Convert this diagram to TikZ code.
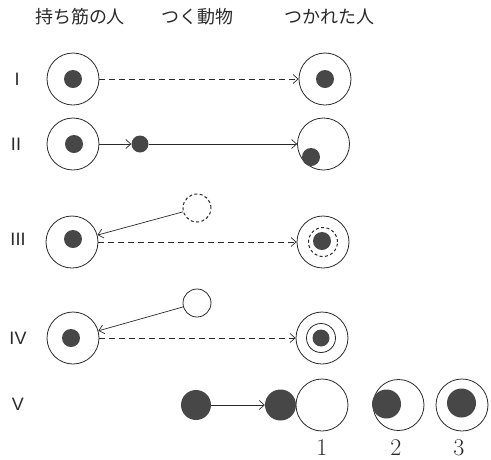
\documentclass[tikz,border=0pt]{standalone}
\usepackage{fontspec}
\newfontfamily\jpfont{Noto Sans CJK JP}
\newfontfamily\sansfont{Liberation Sans}
\usetikzlibrary{arrows.meta}
\definecolor{ink}{HTML}{2A2A2A}
\definecolor{dotgray}{HTML}{474747}
\begin{document}
\begin{tikzpicture}[x=1pt,y=-1pt,
  ring/.style={circle,draw=ink,line width=0.8pt,fill=white,inner sep=0pt,minimum size=52pt},
  dotm/.style={circle,fill=dotgray,inner sep=0pt,minimum size=18pt},
  bigdot/.style={circle,fill=dotgray,inner sep=0pt,minimum size=30pt},
  animal/.style={circle,draw=ink,line width=0.8pt,fill=white,inner sep=0pt,minimum size=28pt},
  dashcirc/.style={circle,draw=ink,line width=1pt,dash pattern=on 3pt off 2.4pt,inner sep=0pt,minimum size=28pt},
  solidarrow/.style={draw=ink,line width=0.7pt,-{Straight Barb[length=5pt,width=9pt]}},
  dasharrow/.style={solidarrow,dash pattern=on 6pt off 4pt},
  header/.style={font=\jpfont\fontsize{18pt}{20pt}\selectfont,anchor=base,text=ink,inner sep=0pt},
  roman/.style={font=\sansfont\fontsize{18pt}{20pt}\selectfont,anchor=base,text=ink,inner sep=0pt},
  digit/.style={font=\fontsize{24pt}{26pt}\selectfont,anchor=base,text=ink,inner sep=0pt}
]
\useasboundingbox (0,0) rectangle (491,459);
% headers
\node[header] (h1) at (80,23) {持ち筋の人};
\node[header] (h2) at (197,23) {つく動物};
\node[header] (h3) at (329,23) {つかれた人};
% row labels
\node[roman] (r1) at (17,85) {I};
\node[roman] (r2) at (16,150.5) {II};
\node[roman] (r3) at (18,245.5) {III};
\node[roman] (r4) at (18,344) {IV};
\node[roman] (r5) at (18,410) {V};
% Row I
\node[ring] (L1) at (73,79) {};
\node[dotm] (L1d) at (73,79) {};
\node[ring] (R1) at (325,79) {};
\node[dotm] (R1d) at (325,79) {};
\draw[dasharrow] (L1.east) -- (R1.west);
% Row II
\node[ring] (L2) at (73,144) {};
\node[dotm] (L2d) at (74,144) {};
\node[dotm,minimum size=17pt] (A2) at (140,144) {};
\node[ring] (R2) at (323.5,144) {};
\node[dotm] (R2d) at (311,157) {};
\draw[solidarrow] (L2.east) -- (A2.west);
\draw[solidarrow] (A2.east) -- (R2.west);
% Row III
\node[ring] (L3) at (72,242) {};
\node[dotm] (L3d) at (73,239) {};
\node[dashcirc] (A3) at (197,208) {};
\node[ring] (R3) at (323,242) {};
\node[dashcirc,minimum size=29pt] (R3i) at (323,242) {};
\node[dotm] (R3d) at (322,241) {};
\draw[solidarrow] (A3) -- (L3);
\draw[dasharrow] (L3.east) -- (R3.west);
% Row IV
\node[ring] (L4) at (73,338) {};
\node[dotm] (L4d) at (71,338) {};
\node[animal] (A4) at (197,303) {};
\node[ring] (R4) at (322,338) {};
\node[animal,minimum size=29pt] (R4i) at (321,338) {};
\node[dotm,minimum size=17pt] (R4d) at (321,338) {};
\draw[solidarrow] (A4) -- (L4);
\draw[dasharrow] (L4.east) -- (R4.west);
% Row V
\node[bigdot] (V1) at (196,405) {};
\node[ring] (C1) at (322,405) {};
\node[bigdot,minimum size=31pt] (V2) at (280.5,405) {};
\draw[solidarrow] (V1.east) -- (V2.west);
\node[ring,minimum size=51pt] (C2) at (398.5,405) {};
\node[bigdot,minimum size=29pt] (C2d) at (386.5,404) {};
\node[ring] (C3) at (462,405) {};
\node[bigdot,minimum size=29pt] (C3d) at (461.5,403) {};
\node[digit] (n1) at (322,455) {1};
\node[digit] (n2) at (396,455) {2};
\node[digit] (n3) at (459,455) {3};
\end{tikzpicture}
\end{document}
